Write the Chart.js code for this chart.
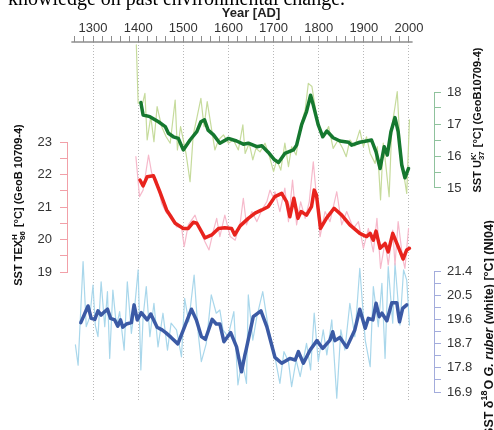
<!DOCTYPE html>
<html>
<head>
<meta charset="utf-8">
<script src="https://cdn.jsdelivr.net/npm/chart.js@4.4.1/dist/chart.umd.min.js"></script>
<style>
  html, body { margin: 0; padding: 0; background: #fff; }
  canvas { display: block; }
</style>
</head>
<body>
<canvas id="grafico" width="494" height="430"></canvas>
<script>
// ---- datos ----
const yearLabels = [1300, 1400, 1500, 1600, 1700, 1800, 1900, 2000];

const redTicks = [19, 19.5, 20, 20.5, 21, 21.5, 22, 22.5, 23];
const redLabels = [19, 20, 21, 22, 23];
const greenTicks = [15, 15.5, 16, 16.5, 17, 17.5, 18];
const greenLabels = [15, 16, 17, 18];
const blueTicks = [16.9, 17.35, 17.8, 18.25, 18.7, 19.15, 19.6, 20.05, 20.5, 20.95, 21.4];
const blueLabels = [16.9, 17.8, 18.7, 19.6, 20.5, 21.4];

// SST UK'37 GeoB10709-4 [year, °C]
const ukRaw = [[1396,19.47],[1400,17.65],[1410,17.65],[1415,17.96],[1420,16.5],[1428,17.23],[1435,16.45],[1442,17.54],[1452,16.92],[1462,16.6],[1471,16.4],[1482,17.75],[1487,16.19],[1494,16.92],[1506,16.08],[1515,15.2],[1522,16.66],[1530,17.18],[1539,17.8],[1546,16.92],[1553,17.7],[1563,16.81],[1570,16.19],[1578,16.5],[1589,16.66],[1600,16.4],[1611,16.5],[1622,16.19],[1632,16.97],[1637,16.08],[1646,16.4],[1654,15.88],[1661,16.24],[1670,16.13],[1681,16.4],[1691,15.98],[1700,15.51],[1707,15.88],[1716,15.56],[1725,16.4],[1733,15.67],[1740,16.29],[1750,16.03],[1759,16.92],[1770,17.44],[1777,18.27],[1785,18.17],[1792,17.54],[1799,16.92],[1810,16.6],[1822,16.92],[1832,16.24],[1843,16.5],[1853,16.24],[1861,15.98],[1869,16.5],[1880,16.31],[1891,16.81],[1899,16.29],[1906,16.6],[1914,16.08],[1925,15.77],[1930,16.29],[1937,14.63],[1943,16.4],[1949,15.67],[1956,14.73],[1962,16.92],[1969,17.54],[1974,18.01],[1980,16.4],[1988,15.46],[1995,14.83],[2001,17.13]];
const ukSmooth = [[1406,17.67],[1411,17.28],[1426,17.23],[1445,17.07],[1460,16.92],[1467,16.71],[1478,16.6],[1489,16.55],[1500,16.19],[1515,16.5],[1530,16.76],[1539,17.07],[1547,17.13],[1555,16.81],[1567,16.66],[1581,16.4],[1600,16.55],[1618,16.47],[1633,16.37],[1644,16.4],[1663,16.29],[1674,16.32],[1688,16.12],[1702,15.88],[1711,15.8],[1725,16.08],[1744,16.19],[1751,16.34],[1762,16.97],[1773,17.39],[1782,17.9],[1788,17.59],[1799,16.97],[1809,16.6],[1818,16.78],[1832,16.57],[1847,16.47],[1866,16.43],[1873,16.34],[1891,16.43],[1906,16.47],[1917,16.5],[1927,16.13],[1936,15.61],[1945,16.29],[1952,16.03],[1960,16.76],[1969,17.2],[1976,16.76],[1984,15.72],[1991,15.32],[1999,15.61]];

// SST TEX86H GeoB 10709-4
const texRaw = [[1395,22.55],[1403,21.32],[1411,21.52],[1423,22.6],[1430,22.04],[1441,21.83],[1452,21.11],[1463,20.81],[1474,20.75],[1485,20.39],[1496,20.39],[1502,19.78],[1511,20.45],[1526,20.75],[1537,20.29],[1548,19.93],[1557,19.68],[1567,20.29],[1574,20.65],[1581,20.09],[1592,20.75],[1604,20.09],[1615,19.98],[1626,20.5],[1633,21.27],[1640,20.45],[1652,20.86],[1663,20.55],[1674,20.91],[1685,21.16],[1692,21.52],[1700,21.27],[1703,21.47],[1714,20.86],[1725,21.58],[1733,20.55],[1742,21.83],[1751,20.45],[1760,21.16],[1770,20.65],[1779,21.16],[1788,22.39],[1796,21.16],[1803,20.09],[1814,20.86],[1825,20.55],[1840,21.47],[1851,20.45],[1862,20.86],[1877,20.34],[1888,20.55],[1899,19.73],[1910,20.34],[1921,19.62],[1929,20.65],[1937,19.11],[1947,19.93],[1954,19.22],[1964,20.29],[1969,19.22],[1976,20.55],[1986,19.42],[1991,19.11],[1999,20.34]];
const texSmooth = [[1404,21.83],[1411,21.65],[1420,21.93],[1434,21.96],[1448,21.47],[1463,20.91],[1482,20.5],[1500,20.34],[1511,20.34],[1522,20.53],[1530,20.5],[1548,20.05],[1563,20.14],[1578,20.34],[1592,20.36],[1607,20.34],[1614,20.14],[1626,20.42],[1644,20.65],[1659,20.81],[1674,20.91],[1688,21.01],[1703,21.32],[1718,21.42],[1729,21.16],[1736,20.7],[1745,21.27],[1754,20.65],[1761,20.86],[1773,20.75],[1784,21.01],[1790,21.52],[1795,21.37],[1804,20.34],[1817,20.65],[1834,20.96],[1851,20.75],[1869,20.45],[1891,20.19],[1906,20.09],[1914,20.19],[1921,19.98],[1927,20.26],[1936,19.73],[1947,19.88],[1954,19.62],[1964,20.19],[1976,19.78],[1987,19.4],[1995,19.68],[2001,19.73]];

// SST d18O G. ruber (white) NI04
const d18Raw = [[1261,18.65],[1267,17.9],[1278,21.75],[1285,19.33],[1293,19.7],[1300,20.88],[1305,19.39],[1311,18.96],[1318,21.0],[1326,19.33],[1332,20.63],[1337,18.15],[1344,20.69],[1352,19.33],[1359,19.89],[1369,18.46],[1376,21.0],[1385,19.08],[1392,20.01],[1400,21.44],[1406,17.72],[1411,19.7],[1418,20.82],[1426,18.96],[1435,20.2],[1444,18.58],[1455,19.83],[1465,18.46],[1473,19.46],[1485,19.21],[1496,18.21],[1503,20.38],[1512,19.51],[1524,21.25],[1533,19.08],[1540,18.03],[1551,18.71],[1562,20.51],[1573,19.83],[1581,19.95],[1588,19.21],[1599,18.96],[1612,19.89],[1621,17.16],[1630,18.09],[1640,17.22],[1644,20.51],[1654,18.83],[1663,19.7],[1676,20.63],[1688,19.33],[1703,18.21],[1714,17.22],[1723,18.4],[1733,18.03],[1740,17.1],[1750,18.09],[1759,17.47],[1773,18.71],[1782,17.72],[1790,19.83],[1799,18.03],[1810,19.21],[1818,18.28],[1829,19.58],[1840,16.67],[1849,19.21],[1858,18.46],[1869,20.2],[1880,18.96],[1891,21.5],[1903,18.83],[1914,17.84],[1921,20.82],[1932,19.33],[1940,20.94],[1947,18.15],[1954,21.56],[1964,19.46],[1969,21.69],[1980,19.39],[1988,21.44],[1995,21.06],[2001,19.39]];
const d18Smooth = [[1273,19.48],[1289,20.1],[1296,19.64],[1304,19.6],[1311,19.92],[1318,19.76],[1326,19.89],[1332,19.98],[1339,19.64],[1348,19.58],[1355,19.35],[1361,19.58],[1366,19.31],[1374,19.43],[1385,19.48],[1391,20.14],[1398,19.58],[1407,19.85],[1420,19.58],[1428,19.8],[1442,19.31],[1453,19.21],[1461,19.11],[1473,18.93],[1488,18.69],[1503,19.33],[1518,19.98],[1529,19.58],[1540,18.96],[1549,18.86],[1564,19.6],[1573,19.43],[1581,19.43],[1590,18.77],[1605,19.11],[1618,18.58],[1629,17.65],[1636,18.24],[1639,18.46],[1655,19.7],[1672,19.92],[1685,19.33],[1703,18.19],[1718,17.97],[1736,18.15],[1748,18.09],[1755,18.4],[1766,17.97],[1781,18.46],[1796,18.81],[1809,18.52],[1825,18.83],[1831,19.14],[1836,18.81],[1847,18.93],[1862,18.56],[1880,19.21],[1891,19.98],[1903,19.27],[1910,19.64],[1920,19.58],[1927,20.2],[1934,19.7],[1940,19.83],[1951,19.55],[1962,20.22],[1973,20.22],[1979,19.51],[1986,20.01],[1995,20.14]];

// ---- estilo ----
const FONT = '"Liberation Sans", Arial, sans-serif';
const colRedAxis = '#f2a0a8';
const colGreenAxis = '#8fc29d';
const colBlueAxis = '#a3acdc';
const anchoDerecho = 60;

const yearTicks = [];
for (let y = 1260; y <= 2000; y += 20) yearTicks.push(y);

function aPuntos(serie) {
    return serie.map(p => ({ x: p[0], y: p[1] }));
}

function linea(serie, color, ancho, eje, orden) {
    return {
        data: aPuntos(serie),
        borderColor: color,
        borderWidth: ancho,
        pointRadius: 0,
        tension: 0,
        fill: false,
        yAxisID: eje,
        order: orden,
        borderJoinStyle: 'round',
        borderCapStyle: 'round'
    };
}

// texto con super/subindices apilados
function textoRico(ctx, partes, size, anchor) {
    const fuente = (p, s) => (p.i ? 'italic ' : '') + 'bold ' + s + 'px ' + FONT;
    const chico = size * 0.72;
    const anchos = partes.map(p => {
        if (p.t === undefined) {
            ctx.font = fuente(p, chico);
            return Math.max(ctx.measureText(p.sup || '').width, ctx.measureText(p.sub || '').width) + 1;
        }
        ctx.font = fuente(p, size);
        return ctx.measureText(p.t).width;
    });
    const total = anchos.reduce((a, b) => a + b, 0);
    let x = anchor === 'center' ? -total / 2 : (anchor === 'end' ? -total : 0);
    const base = size * 0.36;
    ctx.textAlign = 'left';
    ctx.textBaseline = 'alphabetic';
    partes.forEach((p, i) => {
        if (p.t === undefined) {
            ctx.font = fuente(p, chico);
            if (p.sup) ctx.fillText(p.sup, x, base - size * 0.42);
            if (p.sub) ctx.fillText(p.sub, x, base + size * 0.3);
        } else {
            ctx.font = fuente(p, size);
            ctx.fillText(p.t, x, base);
        }
        x += anchos[i];
    });
}

function tituloVertical(ctx, partes, cx, cy, anchor, size) {
    ctx.save();
    ctx.translate(cx, cy);
    ctx.rotate(-Math.PI / 2);
    ctx.fillStyle = '#111';
    textoRico(ctx, partes, size, anchor);
    ctx.restore();
}

const fondo = {
    id: 'fondo',
    beforeDraw(chart) {
        const ctx = chart.ctx;
        ctx.save();
        ctx.fillStyle = '#fff';
        ctx.fillRect(0, 0, chart.width, chart.height);
        ctx.restore();
    }
};

// los dos ejes de la derecha comparten la misma posicion
const ejesDerechos = {
    id: 'ejesDerechos',
    afterLayout(chart) {
        ['yGreen', 'yBlue'].forEach(id => {
            const sc = chart.scales[id];
            sc.left = chart.chartArea.right;
            sc.right = sc.left + anchoDerecho;
            sc.width = anchoDerecho;
        });
    }
};

const decoracion = {
    id: 'decoracion',
    afterDraw(chart) {
        const ctx = chart.ctx;
        const s = chart.scales;
        ctx.save();

        // texto cortado arriba
        ctx.fillStyle = '#000';
        ctx.font = '20px "Liberation Serif", "Times New Roman", serif';
        ctx.textAlign = 'left';
        ctx.textBaseline = 'alphabetic';
        ctx.fillText('knowledge on past environmental change.', 8, 5);

        // eje de años
        ctx.strokeStyle = '#8c8c8c';
        ctx.lineWidth = 1.5;
        ctx.beginPath();
        ctx.moveTo(s.x.getPixelForValue(1252), s.x.bottom);
        ctx.lineTo(s.x.getPixelForValue(2008), s.x.bottom);
        ctx.stroke();

        ctx.lineWidth = 1;
        const ejeV = (sc, x, desde, hasta, color) => {
            ctx.strokeStyle = color;
            ctx.beginPath();
            ctx.moveTo(x, sc.getPixelForValue(desde));
            ctx.lineTo(x, sc.getPixelForValue(hasta));
            ctx.stroke();
        };
        ejeV(s.yRed, s.yRed.right - 0.5, redTicks[0], redTicks[redTicks.length - 1], colRedAxis);
        ejeV(s.yGreen, s.yGreen.left + 0.5, greenTicks[0], greenTicks[greenTicks.length - 1], colGreenAxis);
        ejeV(s.yBlue, s.yBlue.left + 0.5, blueTicks[0], blueTicks[blueTicks.length - 1], colBlueAxis);

        tituloVertical(ctx, [{ t: 'SST TEX' }, { sup: 'H', sub: '86' }, { t: ' [°C] (GeoB 10709-4)' }], 18, 205, 'center', 11);
        tituloVertical(ctx, [{ t: 'SST U' }, { sup: "K'", sub: '37' }, { t: ' [°C] (GeoB10709-4)' }], 477, 120, 'center', 11);
        tituloVertical(ctx, [{ t: 'SST δ' }, { sup: '18' }, { t: 'O ' }, { t: 'G. ruber', i: true }, { t: ' (white) [°C] (NI04)' }], 488, 220, 'end', 12.5);

        ctx.restore();
    }
};

Chart.defaults.font.family = FONT;

const myChart = new Chart(document.getElementById('grafico'), {
    type: 'line',
    data: {
        datasets: [
            linea(ukSmooth, '#15782f', 3.5, 'yGreen', 0),
            linea(texSmooth, '#e8231d', 3.5, 'yRed', 0),
            linea(d18Smooth, '#3b5aa5', 3.5, 'yBlue', 0),
            linea(ukRaw, '#c6db9c', 1.2, 'yGreen', 1),
            linea(texRaw, '#f6b9cb', 1.2, 'yRed', 1),
            linea(d18Raw, '#a9d7eb', 1.2, 'yBlue', 1)
        ]
    },
    options: {
        responsive: false,
        animation: false,
        devicePixelRatio: 1,
        events: [],
        layout: { padding: { top: 0, left: 0, right: anchoDerecho, bottom: 30 } },
        plugins: { legend: { display: false }, tooltip: { enabled: false } },
        scales: {
            x: {
                type: 'linear',
                position: 'top',
                min: 1244.6,
                max: 2055.4,
                afterBuildTicks: sc => { sc.ticks = yearTicks.map(v => ({ value: v })); },
                afterFit: sc => { sc.height = 42; },
                ticks: {
                    autoSkip: false,
                    maxRotation: 0,
                    padding: 0,
                    color: '#333',
                    font: { size: 13 },
                    callback: v => yearLabels.includes(v) ? String(v) : ''
                },
                grid: {
                    color: c => (c.tick && c.tick.value % 100 === 0) ? '#b8b8b8' : 'rgba(0,0,0,0)',
                    tickColor: '#8c8c8c',
                    tickLength: 6,
                    lineWidth: 1
                },
                border: { display: false, dash: [1, 2] },
                title: {
                    display: true,
                    text: 'Year [AD]',
                    color: '#222',
                    font: { size: 13, weight: 'bold' },
                    padding: { top: 6, bottom: 0 }
                }
            },
            yRed: {
                type: 'linear',
                position: 'left',
                min: 15.062,
                max: 26.077,
                afterBuildTicks: sc => { sc.ticks = redTicks.map(v => ({ value: v })); },
                afterFit: sc => { sc.width = 68; },
                ticks: {
                    autoSkip: false,
                    padding: 8,
                    color: '#333',
                    font: { size: 13 },
                    callback: v => redLabels.includes(v) ? String(v) : ''
                },
                grid: { drawOnChartArea: false, color: colRedAxis, tickLength: 8 },
                border: { display: false }
            },
            yGreen: {
                type: 'linear',
                position: 'right',
                min: 8.375,
                max: 19.5625,
                afterBuildTicks: sc => { sc.ticks = greenTicks.map(v => ({ value: v })); },
                afterFit: sc => { sc.width = 0; },
                ticks: {
                    autoSkip: false,
                    padding: 6,
                    color: '#333',
                    font: { size: 13 },
                    callback: v => greenLabels.includes(v) ? String(v) : ''
                },
                grid: { drawOnChartArea: false, color: colGreenAxis, tickLength: 7 },
                border: { display: false }
            },
            yBlue: {
                type: 'linear',
                position: 'right',
                min: 16.6025,
                max: 29.917,
                afterBuildTicks: sc => { sc.ticks = blueTicks.map(v => ({ value: v })); },
                afterFit: sc => { sc.width = 0; },
                ticks: {
                    autoSkip: false,
                    padding: 6,
                    color: '#333',
                    font: { size: 13 },
                    callback: v => blueLabels.includes(v) ? v.toFixed(1) : ''
                },
                grid: { drawOnChartArea: false, color: colBlueAxis, tickLength: 7 },
                border: { display: false }
            }
        }
    },
    plugins: [fondo, ejesDerechos, decoracion]
});
</script>
</body>
</html>
